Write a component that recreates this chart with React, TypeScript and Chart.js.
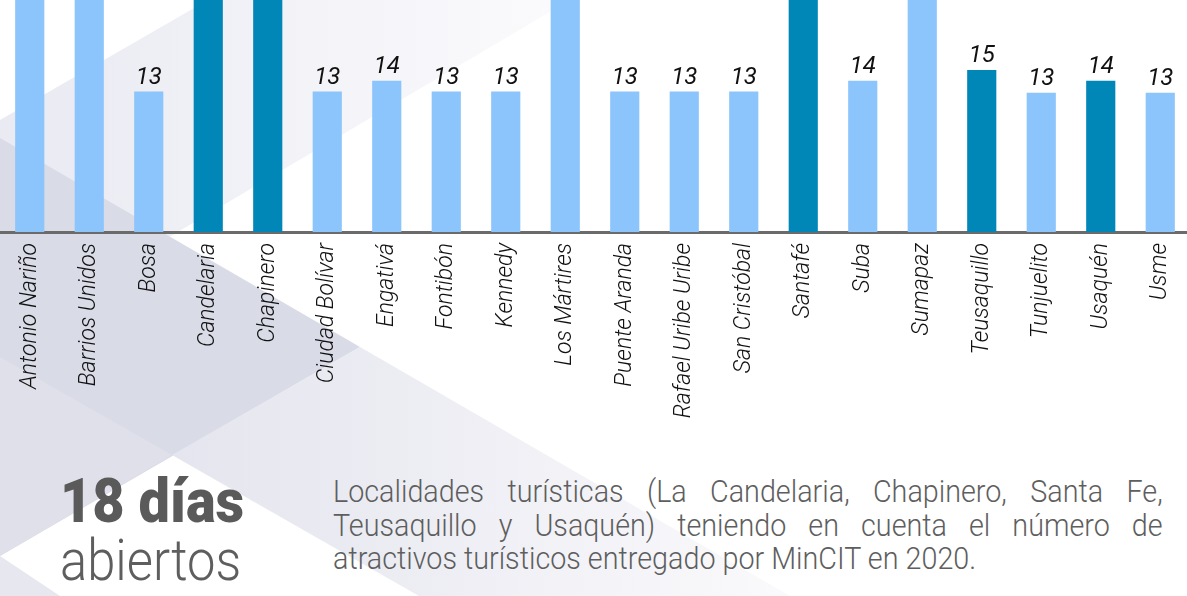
import React, { useEffect, useRef } from "react";
import { Chart, registerables } from "chart.js";

Chart.register(...registerables);

// ---- data ----
const categories = [
  "Antonio Nariño",
  "Barrios Unidos",
  "Bosa",
  "Candelaria",
  "Chapinero",
  "Ciudad Bolívar",
  "Engativá",
  "Fontibón",
  "Kennedy",
  "Los Mártires",
  "Puente Aranda",
  "Rafael Uribe Uribe",
  "San Cristóbal",
  "Santafé",
  "Suba",
  "Sumapaz",
  "Teusaquillo",
  "Tunjuelito",
  "Usaquén",
  "Usme",
];
// bars that run off the top of the picture are estimates
const values = [26, 26, 13, 26, 26, 13, 14, 13, 13, 26, 13, 13, 13, 26, 14, 26, 15, 12.9, 14, 12.9];
const touristic = [false, false, false, true, true, false, false, false, false, false, false, false, false, true, false, false, true, false, true, false];

const Y_MAX = 21.48;
const CANVAS_W = 1190;
const CANVAS_H = 430;
const AXIS_Y = 232;

const LIGHT = "#8cc4fc";
const DARK = "#0086b7";

const valueLabels = {
  id: "valueLabels",
  afterDatasetsDraw(chart: any) {
    const ctx = chart.ctx;
    const meta = chart.getDatasetMeta(0);
    ctx.save();
    ctx.font = "italic 24px Roboto, 'Open Sans', sans-serif";
    ctx.fillStyle = "#111111";
    ctx.textAlign = "center";
    ctx.textBaseline = "alphabetic";
    meta.data.forEach((bar: any, i: number) => {
      const v = values[i];
      if (v > Y_MAX) return;
      ctx.fillText(String(Math.round(v)), bar.x, bar.y - 8);
    });
    ctx.restore();
  },
};

function ChartCanvas() {
  const ref = useRef<HTMLCanvasElement | null>(null);
  useEffect(() => {
    if (!ref.current) return;
    const chart = new Chart(ref.current, {
      type: "bar",
      data: {
        labels: categories,
        datasets: [
          {
            data: values,
            backgroundColor: touristic.map((t) => (t ? DARK : LIGHT)),
            borderWidth: 0,
            categoryPercentage: 1,
            barPercentage: 0.49,
          },
        ],
      },
      options: {
        animation: false,
        responsive: false,
        maintainAspectRatio: false,
        layout: { padding: 0 },
        plugins: { legend: { display: false }, tooltip: { enabled: false } },
        scales: {
          y: { display: false, min: 0, max: Y_MAX },
          x: {
            z: 1,
            grid: { display: false, drawTicks: false, tickLength: 0 },
            border: { display: true, color: "#6b6b6b", width: 3 },
            ticks: {
              autoSkip: false,
              minRotation: 90,
              maxRotation: 90,
              padding: 11,
              color: "#111111",
              font: { family: "Roboto, 'Open Sans', sans-serif", size: 23, style: "italic", weight: "300" },
            },
            afterFit: (s: any) => {
              s.height = CANVAS_H - AXIS_Y;
              s.paddingLeft = 0;
              s.paddingRight = 0;
            },
          },
        },
      },
      plugins: [valueLabels],
    });
    return () => chart.destroy();
  }, []);
  return (
    <canvas
      ref={ref}
      width={CANVAS_W}
      height={CANVAS_H}
      style={{ position: "absolute", left: 0, top: 0, width: CANVAS_W, height: CANVAS_H, display: "block" }}
    />
  );
}

function Background() {
  return (
    <svg width={1187} height={596} style={{ position: "absolute", left: 0, top: 0 }}>
      <defs>
        <linearGradient id="gBand" x1="0" y1="0" x2="570" y2="0" gradientUnits="userSpaceOnUse">
          <stop offset="0" stopColor="#e9eaf2" />
          <stop offset="1" stopColor="#fbfbfd" />
        </linearGradient>
        <linearGradient id="gLow" x1="172" y1="0" x2="790" y2="0" gradientUnits="userSpaceOnUse">
          <stop offset="0" stopColor="#e4e5ee" />
          <stop offset="1" stopColor="#fafafc" />
        </linearGradient>
      </defs>
      <rect x={0} y={0} width={1187} height={596} fill="#ffffff" />
      <polygon points="0,120 208,0 570,0 0,337" fill="url(#gBand)" />
      <polygon points="0,138 360,347 0,556" fill="#d9dbe7" />
      <polygon points="0,357 172,455 0,556" fill="#dfe0ea" />
      <polygon points="172,455 360,347 790,596 419,596" fill="url(#gLow)" />
      <polygon points="0,556 60,596 0,596" fill="#e6e7ef" />
    </svg>
  );
}

const grey = "#5e5e5e";

export default function App() {
  return (
    <div
      style={{
        position: "fixed",
        left: 0,
        top: 0,
        width: 1187,
        height: 596,
        overflow: "hidden",
        background: "#ffffff",
      }}
    >
      <Background />
      <ChartCanvas />
      <div
        style={{
          position: "absolute",
          left: 60,
          top: 470,
          fontFamily: "Roboto, sans-serif",
          fontWeight: 900,
          fontSize: 62,
          lineHeight: 1,
          color: "#5a5a5a",
          whiteSpace: "nowrap",
          transform: "scaleX(0.9)",
          transformOrigin: "0 0",
        }}
      >
        18 días
      </div>
      <div
        style={{
          position: "absolute",
          left: 60,
          top: 532,
          fontFamily: "Roboto, sans-serif",
          fontWeight: 300,
          fontSize: 57,
          lineHeight: 1,
          color: grey,
          whiteSpace: "nowrap",
          transform: "scaleX(0.89)",
          transformOrigin: "0 0",
        }}
      >
        abiertos
      </div>
      <div
        style={{
          position: "absolute",
          left: 333,
          top: 475,
          width: 895,
          fontFamily: "Roboto, sans-serif",
          fontWeight: 300,
          fontSize: 31,
          lineHeight: "33.5px",
          color: grey,
          transform: "scaleX(0.927)",
          transformOrigin: "0 0",
        }}
      >
        <div style={{ textAlign: "justify", textAlignLast: "justify", whiteSpace: "nowrap" }}>
          Localidades turísticas (La Candelaria, Chapinero, Santa Fe,
        </div>
        <div style={{ textAlign: "justify", textAlignLast: "justify", whiteSpace: "nowrap" }}>
          Teusaquillo y Usaquén) teniendo en cuenta el número de
        </div>
        <div style={{ textAlign: "left", whiteSpace: "nowrap" }}>
          atractivos turísticos entregado por MinCIT en 2020.
        </div>
      </div>
    </div>
  );
}
